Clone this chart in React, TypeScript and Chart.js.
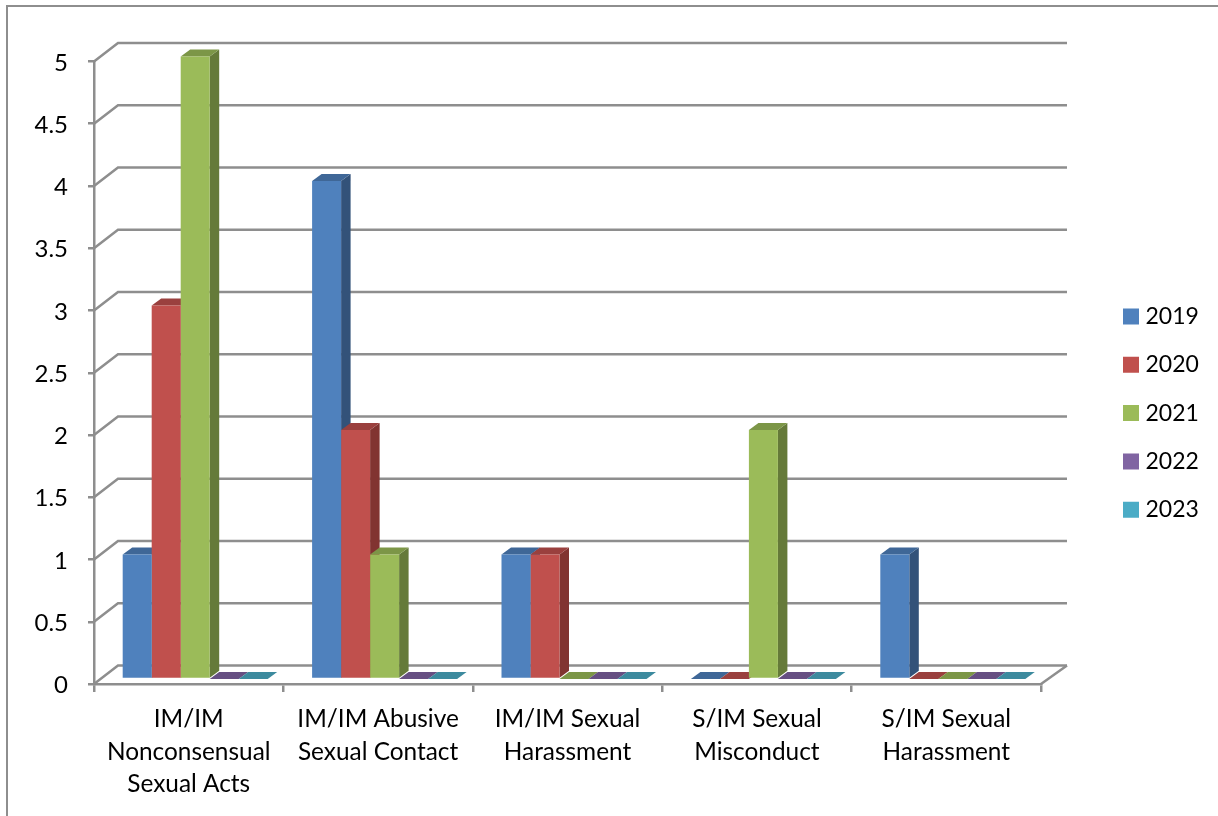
import React, { useEffect, useRef } from "react";
import { Chart, registerables } from "chart.js";

Chart.register(...registerables);

const categories: string[][] = [
  ["IM/IM", "Nonconsensual", "Sexual Acts"],
  ["IM/IM Abusive", "Sexual Contact"],
  ["IM/IM Sexual", "Harassment"],
  ["S/IM Sexual", "Misconduct"],
  ["S/IM Sexual", "Harassment"],
];
const years = ["2019", "2020", "2021", "2022", "2023"];
const values2019 = [1, 4, 1, 0, 1];
const values2020 = [3, 2, 1, 0, 0];
const values2021 = [5, 1, 0, 2, 0];
const values2022 = [0, 0, 0, 0, 0];
const values2023 = [0, 0, 0, 0, 0];
const seriesValues = [values2019, values2020, values2021, values2022, values2023];
const frontColors = ["#4f81bd", "#c0504d", "#9bbb59", "#8064a2", "#4bacc6"];
const topColors = ["#3f6797", "#9a403e", "#7c9647", "#664f82", "#3c8a9e"];
const sideColors = ["#335279", "#813431", "#657a39", "#524169", "#306f80"];

const FONT = "Lato, Carlito, Calibri, sans-serif";
const GRID = "#8e8e8e";
const WALL_DX = 24;
const WALL_DY = 18.5;
const WALL_RIGHT_EXTRA = 2;
const BAR_DX = 6.5;
const BAR_DY = 5;
const DEPTH_DX = 9.5;
const DEPTH_DY = 7;

const threeD = {
  id: "threeD",
  afterLayout(chart: any) {
    const lg = chart.legend;
    if (lg) {
      const pad = 25.3;
      lg.left = 1128 - pad;
      lg.right = lg.left + 120;
      lg.top = 316.5 - 11.5 - pad;
      lg.bottom = lg.top + 300;
    }
  },
  beforeDatasetsDraw(chart: any) {
    const { ctx, chartArea: a, scales } = chart;
    const y = scales.y;
    ctx.save();
    ctx.strokeStyle = GRID;
    ctx.lineWidth = 2.5;
    y.ticks.forEach((t: any) => {
      const py = y.getPixelForValue(t.value);
      ctx.beginPath();
      ctx.moveTo(a.left, py);
      ctx.lineTo(a.left + WALL_DX, py - WALL_DY);
      ctx.lineTo(a.right + WALL_DX + WALL_RIGHT_EXTRA, py - WALL_DY);
      ctx.stroke();
    });
    const py0 = y.getPixelForValue(0);
    ctx.beginPath();
    ctx.moveTo(a.right, py0);
    ctx.lineTo(a.right + WALL_DX + WALL_RIGHT_EXTRA, py0 - WALL_DY);
    ctx.stroke();
    ctx.restore();

    ctx.save();
    ctx.translate(BAR_DX, BAR_DY * -1);
    const metas = chart.getSortedVisibleDatasetMetas();
    for (let c = 0; c < categories.length; c++) {
      metas.forEach((m: any, s: number) => {
        const b = m.data[c];
        const p = b.getProps(["x", "y", "base", "width"], true);
        const l = p.x - p.width / 2;
        const r = p.x + p.width / 2;
        ctx.fillStyle = sideColors[s];
        ctx.beginPath();
        ctx.moveTo(r, p.y);
        ctx.lineTo(r + DEPTH_DX, p.y - DEPTH_DY);
        ctx.lineTo(r + DEPTH_DX, p.base - DEPTH_DY);
        ctx.lineTo(r, p.base);
        ctx.closePath();
        ctx.fill();
        ctx.fillStyle = topColors[s];
        ctx.beginPath();
        ctx.moveTo(l, p.y);
        ctx.lineTo(l + DEPTH_DX, p.y - DEPTH_DY);
        ctx.lineTo(r + DEPTH_DX, p.y - DEPTH_DY);
        ctx.lineTo(r, p.y);
        ctx.closePath();
        ctx.fill();
      });
    }
  },
  afterDatasetsDraw(chart: any) {
    chart.ctx.restore();
  },
};

export default function App() {
  const ref = useRef<HTMLCanvasElement>(null);
  useEffect(() => {
    document.body.style.margin = "0";
    const chart = new Chart(ref.current as HTMLCanvasElement, {
      type: "bar",
      data: {
        labels: categories as any,
        datasets: years.map((yr, i) => ({
          label: yr,
          data: seriesValues[i],
          backgroundColor: frontColors[i],
          borderWidth: 0,
          clip: false as any,
          barPercentage: 1,
          categoryPercentage: 0.7656,
        })),
      },
      options: {
        responsive: false,
        animation: false,
        devicePixelRatio: 1,
        layout: { padding: { top: 61.5, right: 177, left: 0, bottom: 0 } },
        plugins: {
          title: { display: false },
          tooltip: { enabled: false },
          legend: {
            position: "chartArea" as any,
            align: "start",
            labels: {
              boxWidth: 6,
              boxHeight: 6,
              padding: 25.3,
              color: "#000",
              font: { family: FONT, size: 23 },
              generateLabels: () =>
                years.map((yr, i) => ({
                  text: yr,
                  fillStyle: frontColors[i],
                  strokeStyle: frontColors[i],
                  lineWidth: 10,
                  lineJoin: "miter" as any,
                  datasetIndex: i,
                })),
            },
          },
        },
        scales: {
          x: {
            afterFit: (s: any) => { s.height = 132; },
            grid: { drawOnChartArea: false, color: GRID, lineWidth: 2.5, tickLength: 8, offset: true },
            border: { color: GRID, width: 2.5 },
            ticks: {
              color: "#000",
              autoSkip: false,
              maxRotation: 0,
              padding: 11,
              font: { family: FONT, size: 24.4, lineHeight: 1.335 },
            },
          },
          y: {
            min: 0,
            max: 5,
            afterFit: (s: any) => { s.width = 94; },
            grid: { drawOnChartArea: false, color: GRID, lineWidth: 2.5, tickLength: 6 },
            border: { color: GRID, width: 2.5 },
            ticks: {
              stepSize: 0.5,
              color: "#000",
              padding: 20,
              labelOffset: 1.5,
              font: { family: FONT, size: 24 },
              callback: (v: any) => String(v),
            },
          },
        },
      },
      plugins: [threeD],
    });
    return () => chart.destroy();
  }, []);
  return (
    <div style={{ position: "absolute", left: 0, top: 0, width: 1218, height: 816, overflow: "hidden", background: "#fff" }}>
      <div style={{ position: "absolute", left: 6, top: 5, width: 1212, height: 811, borderLeft: "2px solid #8e8e8e", borderTop: "2px solid #8e8e8e", boxSizing: "border-box" }} />
      <canvas ref={ref} width={1218} height={816} style={{ position: "absolute", left: 0, top: 0, display: "block" }} />
    </div>
  );
}
